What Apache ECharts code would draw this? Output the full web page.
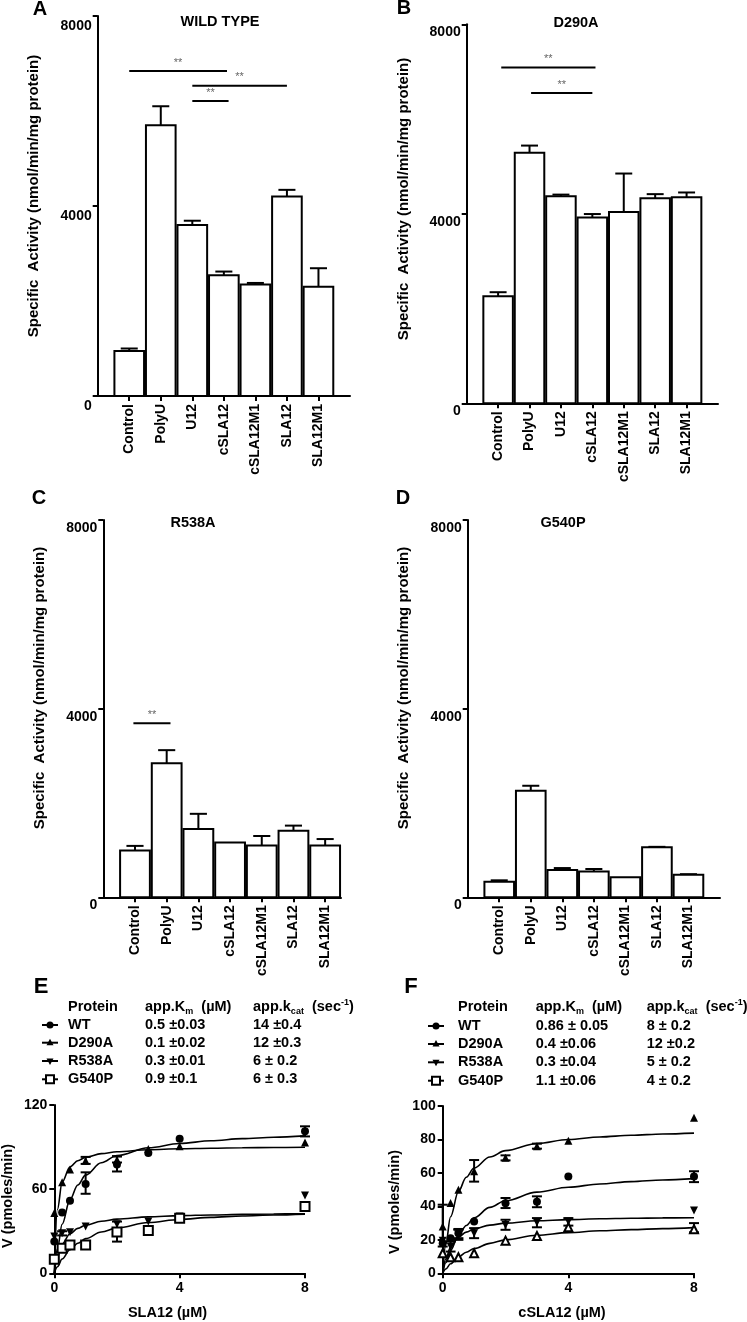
<!DOCTYPE html>
<html><head><meta charset="utf-8">
<script src="https://cdn.jsdelivr.net/npm/echarts@6/dist/echarts.min.js"></script>
<style>html,body{margin:0;padding:0;background:#fff}#c{width:747px;height:1322px}</style>
</head><body><div id="c"></div>
<script>
// ---------- DATA ----------
const categories = ['Control','PolyU','U12','cSLA12','cSLA12M1','SLA12','SLA12M1'];
const barTicks = [0, 4000, 8000];
const wtValues    = [950, 5700, 3600, 2540, 2350, 4200, 2300];
const wtErrors    = [50, 400, 90, 80, 30, 140, 390];
const d290aValues = [2260, 5290, 4370, 3920, 4040, 4330, 4350];
const d290aErrors = [85, 150, 35, 75, 810, 85, 100];
const r538aValues = [990, 2840, 1450, 1160, 1100, 1410, 1100];
const r538aErrors = [100, 280, 320, 0, 200, 110, 135];
const g540pValues = [330, 2260, 580, 545, 425, 1060, 480];
const g540pErrors = [30, 105, 40, 55, 0, 10, 10];
// significance bars: [from category pos, to category pos, height]
const wtSig    = [[0, 3.1, 6840], [2, 5, 6530], [2, 3.15, 6210]];
const d290aSig = [[0.1, 3.1, 7090], [1.05, 3.0, 6550]];
const r538aSig = [[-0.05, 1.12, 3690]];
const g540pSig = [];

const proteins = ['WT','D290A','R538A','G540P'];
// Panel E (SLA12)
const kmE   = ['0.5 \u00b10.03','0.1 \u00b10.02','0.3 \u00b10.01','0.9 \u00b10.1'];
const kcatE = ['14 \u00b10.4','12 \u00b10.3','6 \u00b1 0.2','6 \u00b1 0.3'];
const concE = [0, 0.25, 0.5, 1, 2, 3, 4, 8];
const wtE    = [22.6, 43.3, 51.7, 63.6, 77.5, 85.7, 96, 101.2];
const d290aE = [43, 65, 74, 80.2, 81, 88.6, 90.5, 93.3];
const r538aE = [26.2, 28.6, 29.3, 33.3, 35, 36.9, 40.5, 55.5];
const g540pE = [10, 17.9, 20.2, 20.2, 29.5, 30.5, 39.3, 47.6];
const wtErrE    = [[1, 56.7, 72], [2, 72.6, 83.3], [8, 97.6, 104.8]];
const d290aErrE = [[1, 78, 83], [2, 79, 83.5]];
const r538aErrE = [[0.25, 27, 30]];
const g540pErrE = [[2, 22.6, 36.9], [4, 37.5, 41]];
// Panel F (cSLA12)
const kmF   = ['0.86 \u00b1 0.05','0.4 \u00b10.06','0.3 \u00b10.04','1.1 \u00b10.06'];
const kcatF = ['8 \u00b1 0.2','12 \u00b10.2','5 \u00b1 0.2','4 \u00b1 0.2'];
const concF = [0, 0.25, 0.5, 1, 2, 3, 4, 8];
const wtF    = [18, 21, 23.9, 30.9, 41.8, 42.8, 57.8, 57.8];
const d290aF = [28, 42, 50, 61, 69, 76, 79.3, 93];
const r538aF = [19.5, 16, 23, 23.9, 28.9, 30.3, 30.9, 37.5];
const g540pF = [12, 9.6, 9.6, 12, 19.5, 22.3, 27.5, 26.3];
const wtErrF    = [[0.5, 21, 26.5], [2, 39, 45], [3, 39.5, 46], [8, 54.5, 61]];
const d290aErrF = [[0, 16, 41], [1, 54.8, 67.7], [2, 67.5, 70.5], [3, 74.5, 77.5]];
const r538aErrF = [[0.25, 13, 19], [0.5, 20, 26], [1, 21, 27], [2, 26, 32], [3, 27.5, 33], [4, 28.5, 33]];
const g540pErrF = [[8, 24.5, 30]];
// fitted curves
const curveX = [0, 0.1, 0.25, 0.5, 0.75, 1, 1.5, 2, 3, 4, 5, 6, 7, 8];
const wtCurveE    = [0, 17.5, 35, 52.5, 63, 70, 78.8, 84, 89.5, 92.5, 94.5, 96, 97, 98];
const d290aCurveE = [0, 45.5, 65, 75.8, 80.3, 82.7, 85.3, 86.7, 88.1, 88.8, 89.2, 89.5, 89.7, 89.9];
const r538aCurveE = [0, 11.6, 20.8, 28.2, 32, 34.4, 37.1, 38.6, 40.2, 41.1, 41.6, 42, 42.3, 42.5];
const g540pCurveE = [0, 4.7, 10.2, 16.8, 21.4, 24.7, 29.4, 32.4, 36.2, 38.4, 39.9, 40.9, 41.6, 42.2];
const wtCurveF    = [0, 6.3, 13.7, 22.5, 28.6, 33.2, 39.4, 43.4, 48.5, 51.4, 53.4, 54.8, 55.8, 56.6];
const d290aCurveF = [0, 17.6, 33.8, 48.9, 57.4, 62.9, 69.5, 73.3, 77.6, 80, 81.5, 82.5, 83.3, 83.8];
const r538aCurveF = [0, 8.6, 15.7, 21.6, 24.6, 26.5, 28.8, 30, 31.4, 32.1, 32.6, 32.9, 33.1, 33.2];
const g540pCurveF = [0, 2.6, 5.7, 9.7, 12.6, 14.8, 17.9, 20, 22.7, 24.3, 25.4, 26.1, 26.7, 27.3];

// ---------- CHART ----------
const FONT = "'Liberation Sans', Arial, Helvetica, sans-serif";
const grids = [], xAxes = [], yAxes = [], series = [], graphics = [];
const lineStyle2 = {color:'#000', width:2};
const plain = v => String(v);

function renderBar(params, api){
  const i = api.value(0), v = api.value(1), e = api.value(2);
  const a = api.coord([i - 0.47, v]), b = api.coord([i + 0.47, 0]);
  const c = api.coord([i, v]), t = api.coord([i, v + e]);
  const capL = api.coord([i - 0.27, v + e]), capR = api.coord([i + 0.27, v + e]);
  const ch = [];
  if (e > 0) {
    ch.push({type:'line', shape:{x1:c[0], y1:c[1], x2:t[0], y2:t[1]}, style:{stroke:'#000', lineWidth:2}});
    ch.push({type:'line', shape:{x1:capL[0], y1:t[1], x2:capR[0], y2:t[1]}, style:{stroke:'#000', lineWidth:2}});
  }
  ch.push({type:'rect', shape:{x:a[0], y:a[1], width:b[0]-a[0], height:b[1]-a[1]}, style:{fill:'#fff', stroke:'#000', lineWidth:2}});
  return {type:'group', children:ch};
}
function renderSig(params, api){
  const p1 = api.coord([api.value(0), api.value(2)]), p2 = api.coord([api.value(1), api.value(2)]);
  return {type:'group', children:[
    {type:'line', shape:{x1:p1[0], y1:p1[1], x2:p2[0], y2:p2[1]}, style:{stroke:'#000', lineWidth:2}},
    {type:'text', style:{text:'**', x:(p1[0]+p2[0])/2, y:p1[1]-3, align:'center', verticalAlign:'bottom', fill:'#666', fontSize:11, fontFamily:FONT}}
  ]};
}
function renderErr(params, api){
  const x = api.value(0);
  const lo = api.coord([x, api.value(1)]), hi = api.coord([x, api.value(2)]);
  return {type:'group', children:[
    {type:'line', shape:{x1:lo[0], y1:lo[1], x2:hi[0], y2:hi[1]}, style:{stroke:'#000', lineWidth:2}},
    {type:'line', shape:{x1:lo[0]-5, y1:lo[1], x2:lo[0]+5, y2:lo[1]}, style:{stroke:'#000', lineWidth:2}},
    {type:'line', shape:{x1:hi[0]-5, y1:hi[1], x2:hi[0]+5, y2:hi[1]}, style:{stroke:'#000', lineWidth:2}}
  ]};
}

function addBarPanel(rect, xMax, values, errors, sig, padTop){
  const gi = grids.length;
  grids.push({left:rect[0], top:rect[1], width:rect[2], height:rect[3], containLabel:false, outerBoundsMode:'none'});
  const idx = categories.map((c, i) => i);
  xAxes.push({type:'value', gridIndex:gi, min:-1, max:xMax, interval:1, splitLine:{show:false},
    axisLine:{show:true, onZero:false, lineStyle:lineStyle2},
    axisTick:{show:true, customValues:idx, length:5, lineStyle:lineStyle2},
    axisLabel:{show:true, customValues:idx, formatter:v => categories[Math.round(v)] || '', rotate:90, margin:8,
      color:'#000', fontWeight:'bold', fontSize:14, fontFamily:FONT}});
  yAxes.push({type:'value', gridIndex:gi, min:0, max:8000, interval:4000, splitLine:{show:false},
    axisLine:{show:true, onZero:false, lineStyle:lineStyle2},
    axisTick:{show:true, length:5, lineStyle:lineStyle2},
    axisLabel:{show:true, customValues:barTicks, formatter:plain, margin:6, color:'#000', fontWeight:'bold', fontSize:14, fontFamily:FONT,
      verticalAlign:'top', padding:[padTop,0,0,0]}});
  series.push({type:'custom', xAxisIndex:gi, yAxisIndex:gi, encode:{x:0, y:1}, z:2,
    data: categories.map((c, i) => [i, values[i], errors[i]]), renderItem: renderBar});
  if (sig.length) series.push({type:'custom', xAxisIndex:gi, yAxisIndex:gi, encode:{x:0, y:2}, z:3, data: sig, renderItem: renderSig});
}

addBarPanel([97.7, 16, 252.3, 380], 7, wtValues, wtErrors, wtSig, 3);
addBarPanel([466.7, 24.3, 251.3, 379], 7, d290aValues, d290aErrors, d290aSig, 1);
addBarPanel([103.3, 520, 237.7, 377.3], 6.5, r538aValues, r538aErrors, r538aSig, 1);
addBarPanel([467.7, 520, 252.3, 377.3], 7, g540pValues, g540pErrors, g540pSig, 1);

const symbolDefs = [
  {symbol:'circle', size:8, rotate:0, fill:'#000'},
  {symbol:'triangle', size:8, rotate:0, fill:'#000'},
  {symbol:'triangle', size:8, rotate:180, fill:'#000'},
  {symbol:'rect', size:9, rotate:0, fill:'#fff'}
];

function addKinPanel(rect, yMax, yInt, conc, pts, errs, curves, openSym){
  const gi = grids.length;
  grids.push({left:rect[0], top:rect[1], width:rect[2], height:rect[3], containLabel:false, outerBoundsMode:'none'});
  xAxes.push({type:'value', gridIndex:gi, min:0, max:8, interval:4, splitLine:{show:false},
    axisLine:{show:true, onZero:false, lineStyle:lineStyle2}, axisTick:{show:true, length:5, lineStyle:lineStyle2},
    axisLabel:{margin:8, color:'#000', fontWeight:'bold', fontSize:14, fontFamily:FONT}});
  yAxes.push({type:'value', gridIndex:gi, min:0, max:yMax, interval:yInt, splitLine:{show:false},
    axisLine:{show:true, onZero:false, lineStyle:lineStyle2}, axisTick:{show:true, length:5, lineStyle:lineStyle2},
    axisLabel:{margin:7, color:'#000', fontWeight:'bold', fontSize:14, fontFamily:FONT}});
  proteins.forEach((p, k) => {
    series.push({type:'line', xAxisIndex:gi, yAxisIndex:gi, data: curveX.map((x, j) => [x, curves[k][j]]),
      showSymbol:false, smooth:0.35, smoothMonotone:'x', lineStyle:{color:'#000', width:1.6}, z:2, silent:true});
    series.push({type:'custom', xAxisIndex:gi, yAxisIndex:gi, encode:{x:0, y:[1,2]}, data: errs[k], renderItem: renderErr, z:3});
    const sd = (k === 3 && openSym) ? openSym : symbolDefs[k];
    series.push({type:'scatter', xAxisIndex:gi, yAxisIndex:gi, data: conc.map((x, j) => [x, pts[k][j]]),
      symbol: sd.symbol, symbolSize: sd.size, symbolRotate: sd.rotate, z:4,
      itemStyle:{color: sd.fill, borderColor:'#000', borderWidth: sd.fill === '#fff' ? 2 : 0, opacity:1}});
  });
}

addKinPanel([54.3, 1105, 250.7, 168.3], 120, 60, concE,
  [wtE, d290aE, r538aE, g540pE], [wtErrE, d290aErrE, r538aErrE, g540pErrE],
  [wtCurveE, d290aCurveE, r538aCurveE, g540pCurveE], null);
addKinPanel([442.7, 1106, 251.3, 167.3], 100, 20, concF,
  [wtF, d290aF, r538aF, g540pF], [wtErrF, d290aErrF, r538aErrF, g540pErrF],
  [wtCurveF, d290aCurveF, r538aCurveF, g540pCurveF], {symbol:'triangle', size:8, rotate:0, fill:'#fff'});

// ---------- TEXT ----------
function txt(t, x, y, size, opts){
  opts = opts || {};
  graphics.push({type:'text', x:x, y:y, rotation: opts.rot || 0, silent:true,
    style:{text:t, x:0, y:0, align: opts.align || 'center', verticalAlign:'middle', fill: opts.fill || '#000',
      fontSize:size, fontWeight:'bold', fontFamily:FONT, rich: opts.rich}});
}
const R90 = Math.PI / 2;
txt('A', 40, 9, 20); txt('B', 404, 8, 20); txt('C', 39, 498, 20); txt('D', 403, 498, 20);
txt('E', 41, 987, 22); txt('F', 411, 987, 22);
txt('WILD TYPE', 220, 22, 14.5); txt('D290A', 576, 23, 14.5); txt('R538A', 193, 523, 14.5); txt('G540P', 563, 523, 14.5);
const yTitle = 'Specific  Activity (nmol/min/mg protein)';
txt(yTitle, 34, 196, 15, {rot:R90}); txt(yTitle, 404, 199, 15, {rot:R90});
txt(yTitle, 40, 688, 15, {rot:R90}); txt(yTitle, 404, 688, 15, {rot:R90});
txt('V (pmoles/min)', 8, 1196, 14.5, {rot:R90}); txt('V (pmoles/min)', 395, 1202, 14.5, {rot:R90});
txt('SLA12 (\u00b5M)', 167.5, 1313, 14.5); txt('cSLA12 (\u00b5M)', 562, 1313, 14.5);

const richHdr = {
  a:{fontSize:14.5, fontWeight:'bold', fontFamily:FONT, lineHeight:18},
  sub:{fontSize:9, fontWeight:'bold', fontFamily:FONT, lineHeight:9, verticalAlign:'bottom'},
  sup:{fontSize:9, fontWeight:'bold', fontFamily:FONT, lineHeight:9, verticalAlign:'top'}
};
function table(cols, hdrY, rowY, symX, km, kcat){
  txt('Protein', cols[0], hdrY, 14.5, {align:'left'});
  txt('{a|app.K}{sub|m}{a|  (\u00b5M)}', cols[1], hdrY, 14.5, {align:'left', rich:richHdr});
  txt('{a|app.k}{sub|cat}{a|  (sec}{sup|-1}{a|)}', cols[2], hdrY, 14.5, {align:'left', rich:richHdr});
  proteins.forEach((p, k) => {
    const y = rowY[k];
    txt(p, cols[0], y, 14.5, {align:'left'});
    txt(km[k], cols[1], y, 14.5, {align:'left'});
    txt(kcat[k], cols[2], y, 14.5, {align:'left'});
    graphics.push({type:'line', silent:true, shape:{x1:symX-8, y1:y, x2:symX+8, y2:y}, style:{stroke:'#000', lineWidth:2}});
    if (k === 0) graphics.push({type:'circle', silent:true, shape:{cx:symX, cy:y, r:3.5}, style:{fill:'#000'}});
    if (k === 1) graphics.push({type:'polygon', silent:true, shape:{points:[[symX, y-4],[symX-3.5, y+2.5],[symX+3.5, y+2.5]]}, style:{fill:'#000'}});
    if (k === 2) graphics.push({type:'polygon', silent:true, shape:{points:[[symX, y+4],[symX-3.5, y-2.5],[symX+3.5, y-2.5]]}, style:{fill:'#000'}});
    if (k === 3) graphics.push({type:'rect', silent:true, shape:{x:symX-4, y:y-4, width:8, height:8}, style:{fill:'#fff', stroke:'#000', lineWidth:2}});
  });
}
table([68, 145, 253], 1006.7, [1025, 1042.7, 1061, 1079.3], 50, kmE, kcatE);
table([458, 535.7, 646.7], 1007, [1026, 1044, 1062.3, 1080.7], 436, kmF, kcatF);

const chart = echarts.init(document.getElementById('c'), null, {renderer:'canvas', width:747, height:1322});
chart.setOption({
  backgroundColor:'#fff', animation:false,
  grid: grids, xAxis: xAxes, yAxis: yAxes, series: series, graphic: graphics
});
</script></body></html>
